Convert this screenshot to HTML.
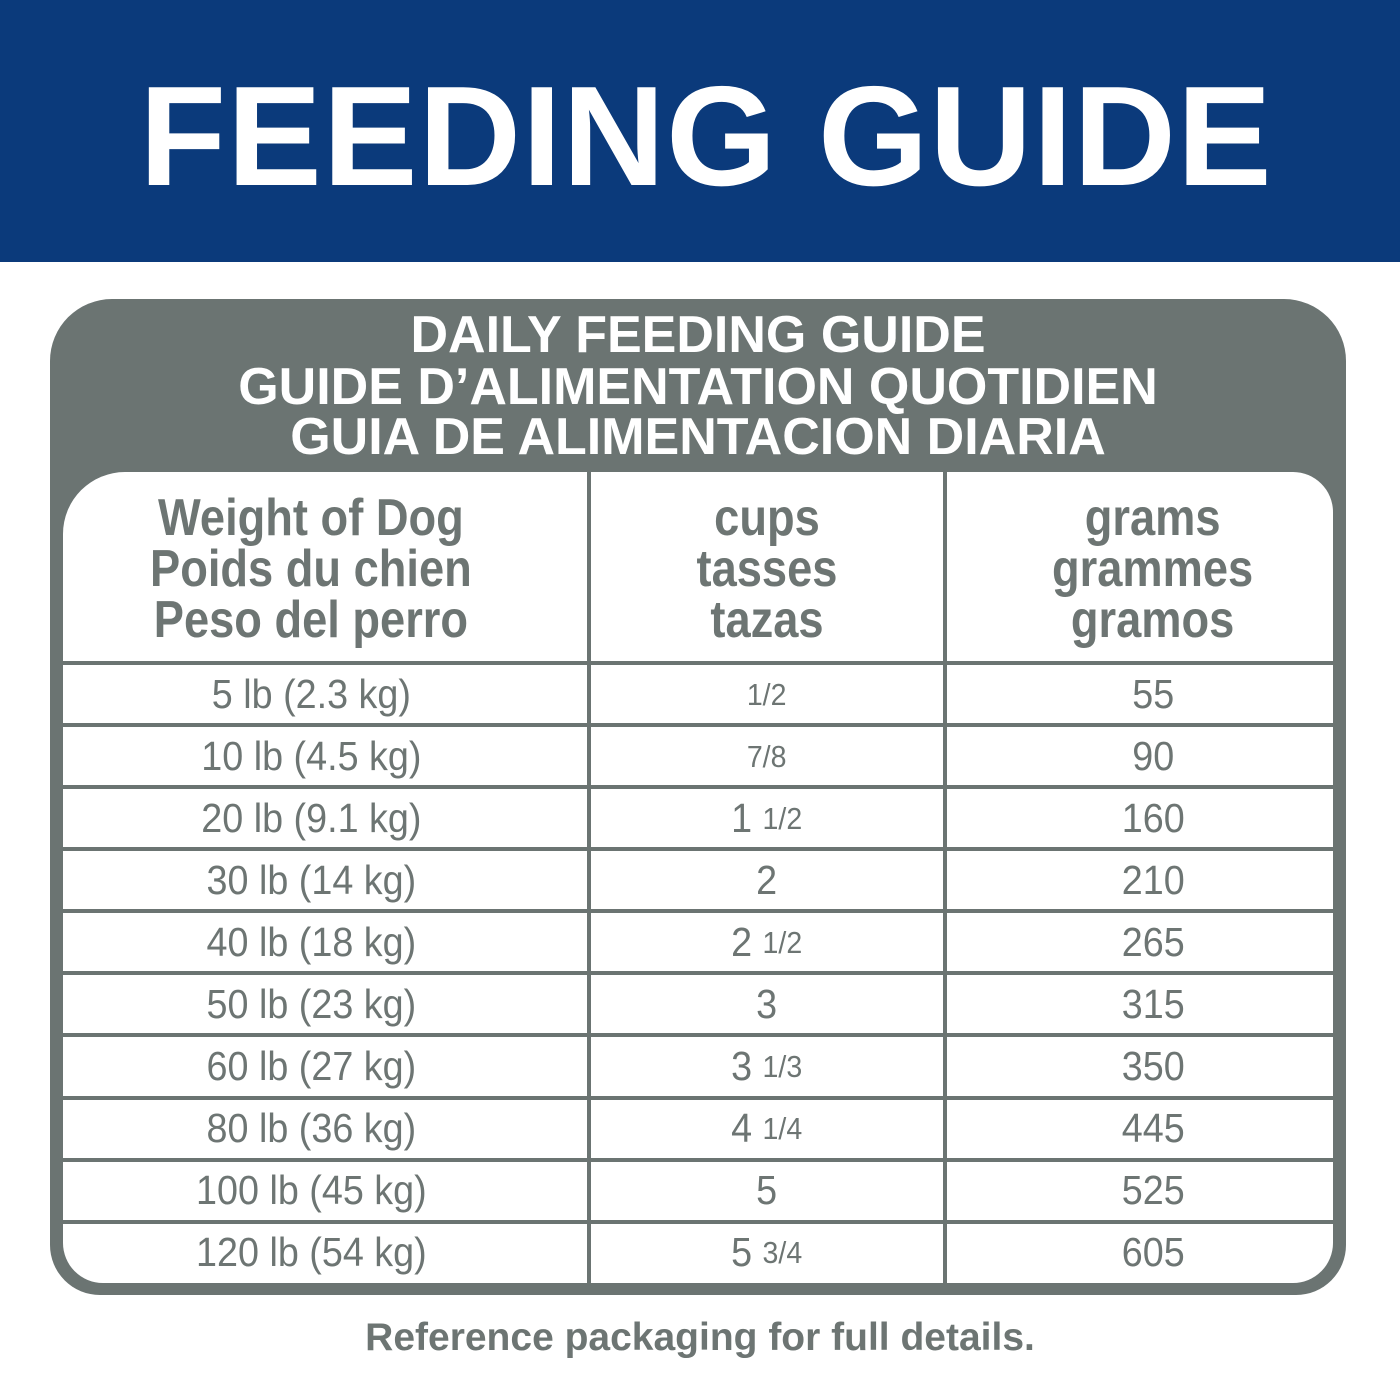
<!DOCTYPE html>
<html><head><meta charset="utf-8"><style>
*{margin:0;padding:0;box-sizing:border-box}
body{width:1400px;height:1400px;background:#fff;position:relative;overflow:hidden;font-family:"Liberation Sans",sans-serif}
.band{position:absolute;left:0;top:0;width:1400px;height:262px;background:#0b3a7b}
.title{position:absolute;left:6px;top:52px;width:1400px;text-align:center;color:#fff;font-weight:bold;font-size:142px;letter-spacing:1px;line-height:170px}
.panel{position:absolute;left:50px;top:299px;width:1296px;height:996px;background:#6b7472;border-radius:62px 62px 50px 50px}
.sub{position:absolute;left:50px;width:1296px;text-align:center;color:#fff;font-weight:bold;font-size:52px;line-height:52px}
.inner{position:absolute;left:63px;top:472px;width:1270px;height:811px;background:#fff;border-radius:62px 40px 40px 40px;overflow:hidden}
.vl{position:absolute;top:472px;height:811px;width:4px;background:#6b7472}
.hl{position:absolute;left:63px;width:1270px;height:4px;background:#6b7472}
.c{position:absolute;text-align:center;color:#6d7573;white-space:nowrap}
.h span{display:inline-block;transform:scaleX(0.87)}
.r span.w{display:inline-block;transform:scaleX(0.92)}
.h{font-weight:bold;font-size:52px;line-height:51px}
.r{font-size:41px;line-height:62px}
.f{font-size:31px;line-height:0;position:relative;top:-3px}
.foot{position:absolute;left:0;top:1316px;width:1400px;text-align:center;color:#6d7573;font-weight:bold;font-size:39px}
</style></head><body>
<div class="band"></div>
<div class="title">FEEDING GUIDE</div>
<div class="panel"></div>
<div class="sub" style="top:309px">DAILY FEEDING GUIDE</div>
<div class="sub" style="top:361px">GUIDE D’ALIMENTATION QUOTIDIEN</div>
<div class="sub" style="top:411px">GUIA DE ALIMENTACION DIARIA</div>
<div class="inner"></div>
<div class="vl" style="left:587px"></div>
<div class="vl" style="left:943px"></div>
<div class="hl" style="top:661px"></div>
<div class="hl" style="top:723px"></div>
<div class="hl" style="top:785px"></div>
<div class="hl" style="top:847px"></div>
<div class="hl" style="top:909px"></div>
<div class="hl" style="top:971px"></div>
<div class="hl" style="top:1033px"></div>
<div class="hl" style="top:1096px"></div>
<div class="hl" style="top:1158px"></div>
<div class="hl" style="top:1220px"></div>

<div class="c h" style="left:61px;width:500px;top:493px"><span>Weight of Dog<br>Poids du chien<br>Peso del perro</span></div>
<div class="c h" style="left:591px;width:352px;top:493px"><span>cups<br>tasses<br>tazas</span></div>
<div class="c h" style="left:953px;width:400px;top:493px"><span>grams<br>grammes<br>gramos</span></div>

<div class="c r" style="left:61px;width:500px;top:663px"><span class="w">5 lb (2.3 kg)<br>10 lb (4.5 kg)<br>20 lb (9.1 kg)<br>30 lb (14 kg)<br>40 lb (18 kg)<br>50 lb (23 kg)<br>60 lb (27 kg)<br>80 lb (36 kg)<br>100 lb (45 kg)<br>120 lb (54 kg)</span></div>
<div class="c r" style="left:591px;width:352px;top:663px"><span class="w"><span class="f">1/2</span><br><span class="f">7/8</span><br>1 <span class="f">1/2</span><br>2<br>2 <span class="f">1/2</span><br>3<br>3 <span class="f">1/3</span><br>4 <span class="f">1/4</span><br>5<br>5 <span class="f">3/4</span></span></div>
<div class="c r" style="left:953px;width:400px;top:663px"><span class="w">55<br>90<br>160<br>210<br>265<br>315<br>350<br>445<br>525<br>605</span></div>

<div class="foot">Reference packaging for full details.</div>
</body></html>
